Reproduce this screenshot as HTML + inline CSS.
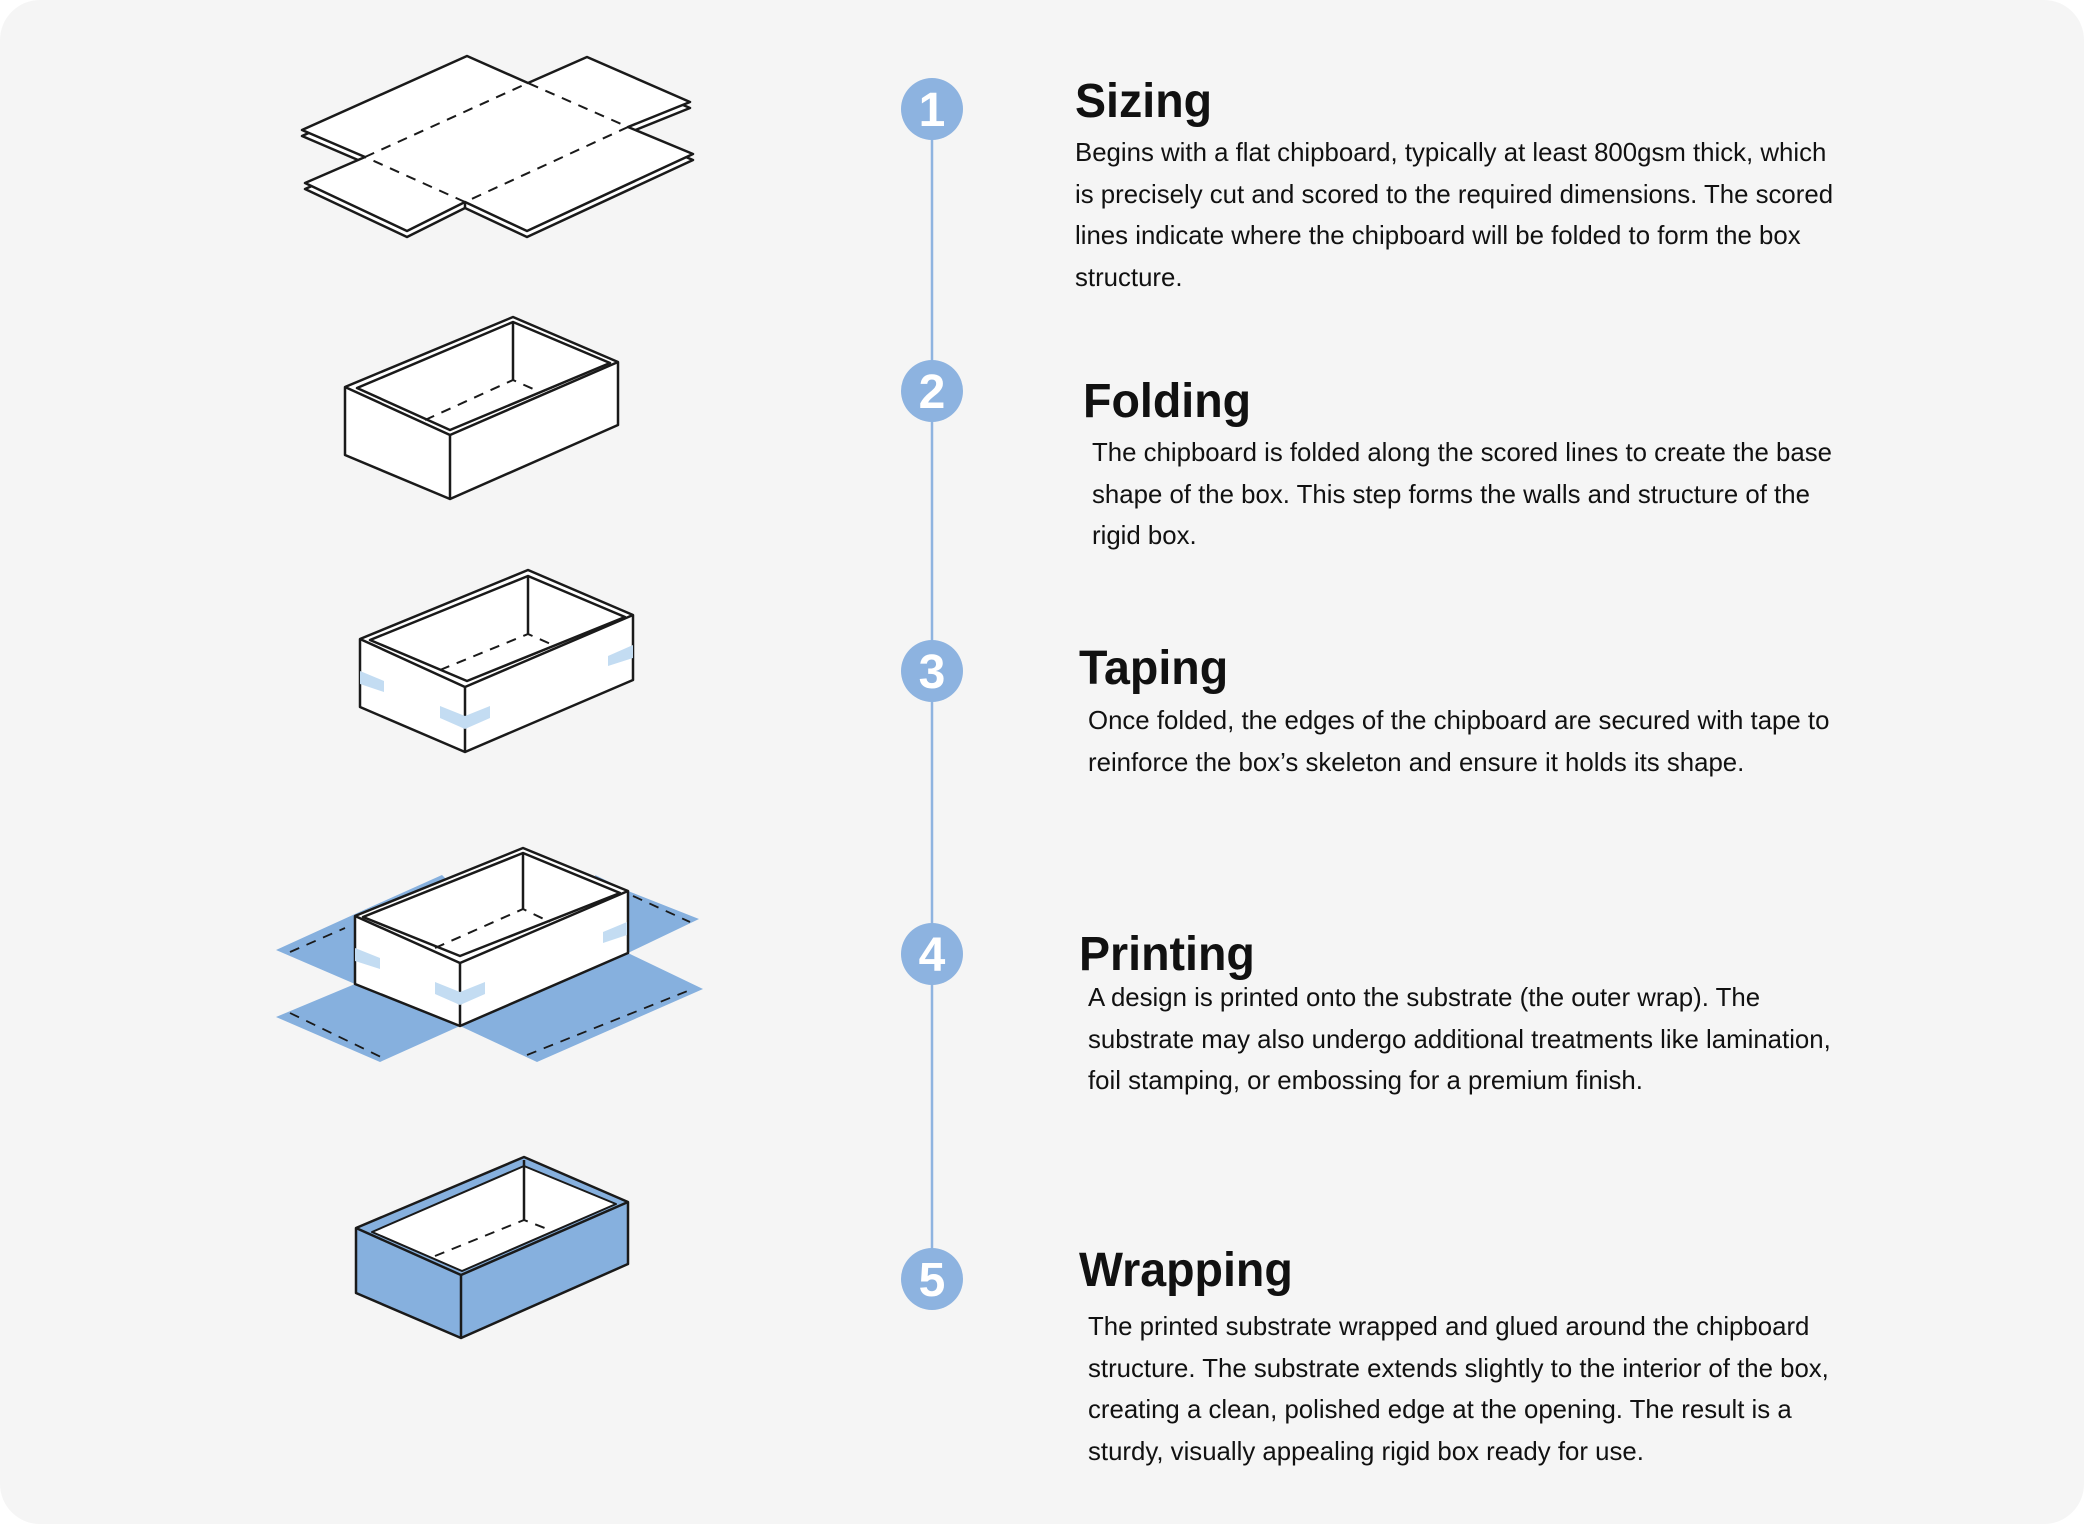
<!DOCTYPE html>
<html><head><meta charset="utf-8"><style>
html,body{margin:0;padding:0;background:#fff;}
.wrap{position:relative;width:2084px;height:1524px;background:#f5f5f5;border-radius:40px;overflow:hidden;font-family:"Liberation Sans",sans-serif;color:#111;}
svg{position:absolute;left:0;top:0;}
.t{position:absolute;font-weight:bold;font-size:48px;white-space:nowrap;transform:scaleX(0.97);transform-origin:left;line-height:1;}
.b{position:absolute;font-size:25.8px;white-space:nowrap;transform-origin:left;line-height:41.5px;}
</style></head><body><div class="wrap">
<svg width="2084" height="1524" viewBox="0 0 2084 1524">
<g stroke="#1a1a1a" stroke-width="2.5" stroke-linejoin="round" fill="#fff">
<line x1="932" y1="109" x2="932" y2="1279" stroke="#8fb4e0" stroke-width="2.5"/>
<!-- box1 -->
<polygon points="302,136 467,62 528,89 587,63 690,108 628,133 693,160 527,237 465,208 407,237 305,189 365,163"/>
<polygon points="302,130 467,56 528,83 587,57 690,102 628,127 693,154 527,231 465,202 407,231 305,183 365,157"/>
<polygon points="365,157 528,83 628,127 465,202" fill="none" stroke-dasharray="10,8" stroke-width="2"/>
<line x1="465" y1="202" x2="465" y2="208"/>
<!-- box2 -->
<polygon points="345,387 513,317 618,362 618,425 450,499 345,455"/>
<polyline points="345,387 450,435 618,362" fill="none"/>
<line x1="450" y1="435" x2="450" y2="499"/>
<polygon points="357,388 513,322 610,363 450,430" fill="#fff"/>
<line x1="513" y1="322" x2="513" y2="380"/>
<polyline points="425,420 513,380 540,392" fill="none" stroke-dasharray="10,8" stroke-width="2"/>
<!-- box3 -->
<polygon points="360,639 528,570 633,615 633,680 465,752 360,707"/>
<polyline points="360,639 465,687 633,615" fill="none"/>
<line x1="465" y1="687" x2="465" y2="752"/>
<polygon points="370,640 528,576 625,617 467,681"/>
<line x1="528" y1="576" x2="528" y2="634"/>
<polyline points="440,670 528,634 553,645" fill="none" stroke-dasharray="10,8" stroke-width="2"/>
<g fill="#c3dcf2" stroke="none">
<polygon points="360,671 384,681 384,692 360,684"/>
<polygon points="440,706 465,716 490,706 490,718 465,729 440,718"/>
<polygon points="608,656 633,645 633,658 608,666"/>
</g>
<!-- box4 flaps -->
<g fill="#86b0de" stroke="none">
<polygon points="276,950 355,914 442,875 446,879 355,984"/>
<polygon points="276,1017 355,984 460,1026 380,1062"/>
<polygon points="595,875 628,891 699,919 628,953"/>
<polygon points="460,1026 628,953 703,989 537,1062"/>
</g>
<g fill="none" stroke-dasharray="10,8" stroke-width="1.8">
<line x1="290" y1="952" x2="345" y2="928"/>
<line x1="290" y1="1013" x2="383" y2="1058"/>
<line x1="633" y1="896" x2="690" y2="922"/>
<line x1="527" y1="1055" x2="690" y2="990"/>
</g>
<polygon points="355,916 523,848 628,891 628,953 460,1026 355,984"/>
<polyline points="355,916 460,963 628,891" fill="none"/>
<line x1="460" y1="963" x2="460" y2="1026"/>
<polygon points="363,917 523,853 620,893 460,956"/>
<line x1="523" y1="853" x2="523" y2="909"/>
<polyline points="435,948 523,909 550,922" fill="none" stroke-dasharray="10,8" stroke-width="2"/>
<g fill="#c3dcf2" stroke="none">
<polygon points="355,948 380,958 380,969 355,961"/>
<polygon points="435,982 460,992 485,982 485,994 460,1005 435,994"/>
<polygon points="603,932 627,922 627,935 603,943"/>
</g>
<!-- box5 -->
<polygon points="356,1228 524,1157 628,1202 628,1264 461,1338 356,1293" fill="#86b0de"/>
<polyline points="356,1228 461,1275 628,1202" fill="none"/>
<line x1="461" y1="1275" x2="461" y2="1338"/>
<polygon points="372,1232 524,1166 616,1204 462,1271" fill="#fff" stroke-width="2"/>
<line x1="524" y1="1160" x2="524" y2="1220"/>
<polyline points="435,1256 524,1220 550,1230" fill="none" stroke-dasharray="10,8" stroke-width="2"/>
</g>
<g fill="#8db3e0">
<circle cx="932" cy="109" r="31"/><circle cx="932" cy="391" r="31"/><circle cx="932" cy="671" r="31"/><circle cx="932" cy="954" r="31"/><circle cx="932" cy="1279" r="31"/>
</g>
<g fill="#fff" font-family="Liberation Sans, sans-serif" font-weight="bold" font-size="48" text-anchor="middle">
<text x="932" y="126">1</text><text x="932" y="408">2</text><text x="932" y="688">3</text><text x="932" y="971">4</text><text x="932" y="1296">5</text>
</g>
</svg>
<div class="t" style="left:1075px;top:78px">Sizing</div>
<div class="b" style="left:1075px;top:133px">Begins with a flat chipboard, typically at least 800gsm thick, which<br>is precisely cut and scored to the required dimensions. The scored<br>lines indicate where the chipboard will be folded to form the box<br>structure.</div>
<div class="t" style="left:1083px;top:378px">Folding</div>
<div class="b" style="left:1092px;top:433px">The chipboard is folded along the scored lines to create the base<br>shape of the box. This step forms the walls and structure of the<br>rigid box.</div>
<div class="t" style="left:1079px;top:645px">Taping</div>
<div class="b" style="left:1088px;top:701px">Once folded, the edges of the chipboard are secured with tape to<br>reinforce the box’s skeleton and ensure it holds its shape.</div>
<div class="t" style="left:1079px;top:931px">Printing</div>
<div class="b" style="left:1088px;top:978px">A design is printed onto the substrate (the outer wrap). The<br>substrate may also undergo additional treatments like lamination,<br>foil stamping, or embossing for a premium finish.</div>
<div class="t" style="left:1079px;top:1247px">Wrapping</div>
<div class="b" style="left:1088px;top:1307px">The printed substrate wrapped and glued around the chipboard<br>structure. The substrate extends slightly to the interior of the box,<br>creating a clean, polished edge at the opening. The result is a<br>sturdy, visually appealing rigid box ready for use.</div>
</div></body></html>
